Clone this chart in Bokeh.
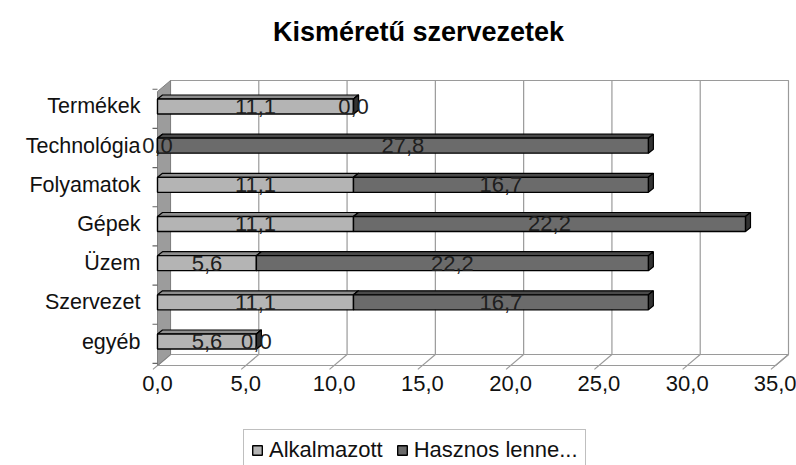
from bokeh.plotting import figure
from bokeh.layouts import column
from bokeh.models import Range1d, FixedTicker, Legend, LegendItem, ColumnDataSource, Label
from bokeh.core.properties import value
from bokeh.embed import file_html
from bokeh.resources import INLINE

# ---------------- data ----------------
title_text = "Kisméretű szervezetek"
categories = ["Termékek", "Technológia", "Folyamatok", "Gépek", "Üzem", "Szervezet", "egyéb"]
alkalmazott = [11.1, 0.0, 11.1, 11.1, 5.6, 11.1, 5.6]
hasznos = [0.0, 27.8, 16.7, 22.2, 22.2, 16.7, 0.0]
series_names = ["Alkalmazott", "Hasznos lenne..."]
x_ticks = [0, 5, 10, 15, 20, 25, 30, 35]
x_tick_labels = ["0,0", "5,0", "10,0", "15,0", "20,0", "25,0", "30,0", "35,0"]

# ---------------- layout / style ----------------
FONT = "Liberation Sans"
W = 796
HEAD_H, LEG_H = 50, 44
H = 465 - HEAD_H - LEG_H
FRAME_L, FRAME_R, FRAME_T, FRAME_B = 141, 790, 79, 374   # page pixels
AXIS0_PX = 157                      # pixel position of value 0
PX_X = (775 - AXIS0_PX) / 35.0      # px per x unit
PX_Y = 39.17                        # px per category
X_MIN = -(AXIS0_PX - FRAME_L) / PX_X
X_MAX = (FRAME_R - AXIS0_PX) / PX_X
Y_TOP = 6.689
Y_BOT = Y_TOP - (FRAME_B - FRAME_T) / PX_Y

WDX, WDY = 13 / PX_X, 11 / PX_Y     # wall depth
BDX, BDY = 5 / PX_X, 4 / PX_Y       # bar depth
BAR_H = 15 / PX_Y
FRONT_Y = -0.613
BACK_Y = FRONT_Y + WDY
WALL_TOP = 6.663
X_END = x_ticks[-1]
TICK_LEN = 5 / PX_X

front_colors = ["#b4b4b4", "#6b6b6b"]
top_colors = ["#8e8e8e", "#4a4a4a"]
side_colors = ["#7a7a7a", "#333333"]

n = len(categories)
ypos = [n - 1 - i for i in range(n)]

# ---------------- header with title ----------------
hd = figure(width=W, height=HEAD_H, output_backend="svg", toolbar_location=None,
            x_axis_type=None, y_axis_type=None, x_range=Range1d(0, 1), y_range=Range1d(0, 1),
            min_border_left=FRAME_L, min_border_right=W - FRAME_R, min_border_top=0,
            min_border_bottom=0, outline_line_color=None, background_fill_color="white",
            border_fill_color="white")
hd.xgrid.visible = False
hd.ygrid.visible = False
hd.add_layout(Label(x=418 - FRAME_L, y=HEAD_H - 31, x_units="screen", y_units="screen",
                    text=title_text, text_align="center", text_baseline="middle",
                    text_font=FONT, text_font_size="27px", text_font_style="bold",
                    text_color="black"))

# ---------------- main chart ----------------
p = figure(width=W, height=H, output_backend="svg", toolbar_location=None,
           x_range=Range1d(X_MIN, X_MAX), y_range=Range1d(Y_BOT, Y_TOP),
           min_border_left=FRAME_L, min_border_right=W - FRAME_R,
           min_border_top=FRAME_T - HEAD_H, min_border_bottom=H - (FRAME_B - HEAD_H),
           outline_line_color=None, background_fill_color="white", border_fill_color="white")
p.xgrid.visible = False
p.ygrid.visible = False

# ---- walls ----
p.quad(left=[WDX], right=[X_END + WDX], bottom=[BACK_Y], top=[WALL_TOP],
       fill_color="white", line_color="#9a9a9a", line_width=1.2)
gx = [v + WDX for v in x_ticks[1:-1]]
p.segment(x0=gx, x1=gx, y0=[BACK_Y] * len(gx), y1=[WALL_TOP] * len(gx),
          line_color="#9a9a9a", line_width=1.2)
p.patch(x=[0, X_END, X_END + WDX, WDX], y=[FRONT_Y, FRONT_Y, BACK_Y, BACK_Y],
        fill_color="white", line_color="#9a9a9a", line_width=1.2)
fx0 = [v - 0.35 * WDX for v in x_ticks]
fx1 = [v + WDX for v in x_ticks]
p.segment(x0=fx0, x1=fx1, y0=[FRONT_Y - 0.35 * WDY] * len(x_ticks), y1=[BACK_Y] * len(x_ticks),
          line_color="#9a9a9a", line_width=1.2)
p.patch(x=[0, 0, WDX, WDX], y=[FRONT_Y, WALL_TOP - WDY, WALL_TOP, BACK_Y],
        fill_color="#9c9c9c", line_color="#808080", line_width=1)
ty = [k - 0.56 for k in range(n + 1)]
p.segment(x0=[-TICK_LEN] * len(ty), x1=[0] * len(ty), y0=ty, y1=ty,
          line_color="#666666", line_width=1.2)

# ---- 3D stacked bars ----
series = [alkalmazott, hasznos]
lefts = [0.0] * n
lab_x, lab_y, lab_t = [], [], []
for s, vals in enumerate(series):
    L = lefts[:]
    R = [L[i] + vals[i] for i in range(n)]
    B = [y - BAR_H / 2 for y in ypos]
    T = [y + BAR_H / 2 for y in ypos]
    top_xs = [[L[i], R[i], R[i] + BDX, L[i] + BDX] for i in range(n)]
    top_ys = [[T[i], T[i], T[i] + BDY, T[i] + BDY] for i in range(n)]
    side_xs = [[R[i], R[i] + BDX, R[i] + BDX, R[i]] for i in range(n)]
    side_ys = [[B[i], B[i] + BDY, T[i] + BDY, T[i]] for i in range(n)]
    p.patches(xs=top_xs, ys=top_ys, fill_color=top_colors[s], line_color="black", line_width=1.2)
    p.patches(xs=side_xs, ys=side_ys, fill_color=side_colors[s], line_color="black", line_width=1.2)
    p.quad(left=L, right=R, bottom=B, top=T, fill_color=front_colors[s],
           line_color="black", line_width=1.4)
    for i in range(n):
        lab_x.append(L[i] + vals[i] / 2)
        lab_y.append(ypos[i])
        lab_t.append(f"{vals[i]:.1f}".replace(".", ","))
    lefts = R

src = ColumnDataSource(dict(x=lab_x, y=lab_y, t=lab_t))
p.text(x="x", y="y", text="t", source=src, text_align="center", text_baseline="middle",
       text_font=value(FONT), text_font_size="22px", text_color="#1e1e1e")

# ---- axes ----
p.xaxis.ticker = FixedTicker(ticks=x_ticks)
p.xaxis.major_label_overrides = {t: l for t, l in zip(x_ticks, x_tick_labels)}
p.xaxis.axis_line_color = None
p.xaxis.major_tick_line_color = None
p.xaxis.minor_tick_line_color = None
p.xaxis.major_tick_out = 0
p.xaxis.major_tick_in = 0
p.xaxis.major_label_standoff = 1
p.xaxis.major_label_text_font = FONT
p.xaxis.major_label_text_font_size = "22px"
p.xaxis.major_label_text_color = "#111111"

p.yaxis.ticker = FixedTicker(ticks=ypos)
p.yaxis.major_label_overrides = {ypos[i]: categories[i] for i in range(n)}
p.yaxis.axis_line_color = None
p.yaxis.major_tick_line_color = None
p.yaxis.minor_tick_line_color = None
p.yaxis.major_tick_out = 0
p.yaxis.major_tick_in = 0
p.yaxis.major_label_standoff = 1
p.yaxis.major_label_text_font = FONT
p.yaxis.major_label_text_font_size = "21.5px"
p.yaxis.major_label_text_color = "#111111"

# ---------------- legend strip ----------------
lg = figure(width=W, height=LEG_H, output_backend="svg", toolbar_location=None,
            x_axis_type=None, y_axis_type=None, x_range=Range1d(0, 1), y_range=Range1d(0, 1),
            min_border_left=FRAME_L, min_border_right=W - FRAME_R, min_border_top=0,
            min_border_bottom=0, outline_line_color=None, background_fill_color="white",
            border_fill_color="white")
lg.xgrid.visible = False
lg.ygrid.visible = False
# legend stubs (kept outside the visible range; only their swatches are shown)
leg_r = [lg.quad(left=[-3], right=[-2], bottom=[-3], top=[-2], fill_color=front_colors[k],
                 line_color="black", line_width=1.4) for k in range(2)]
legend = Legend(items=[LegendItem(label=series_names[k], renderers=[leg_r[k]]) for k in range(2)],
                orientation="horizontal", location=(243 - FRAME_L, -6), margin=0, padding=7,
                spacing=13, label_standoff=6, glyph_width=12, glyph_height=12,
                label_text_font=FONT, label_text_font_size="22px", label_text_color="#111111",
                border_line_color="#808080", border_line_width=1, background_fill_color="white",
                background_fill_alpha=1)
lg.add_layout(legend, "center")

layout = column(hd, p, lg, spacing=0)
open("out.html", "w").write(file_html(layout, INLINE))
